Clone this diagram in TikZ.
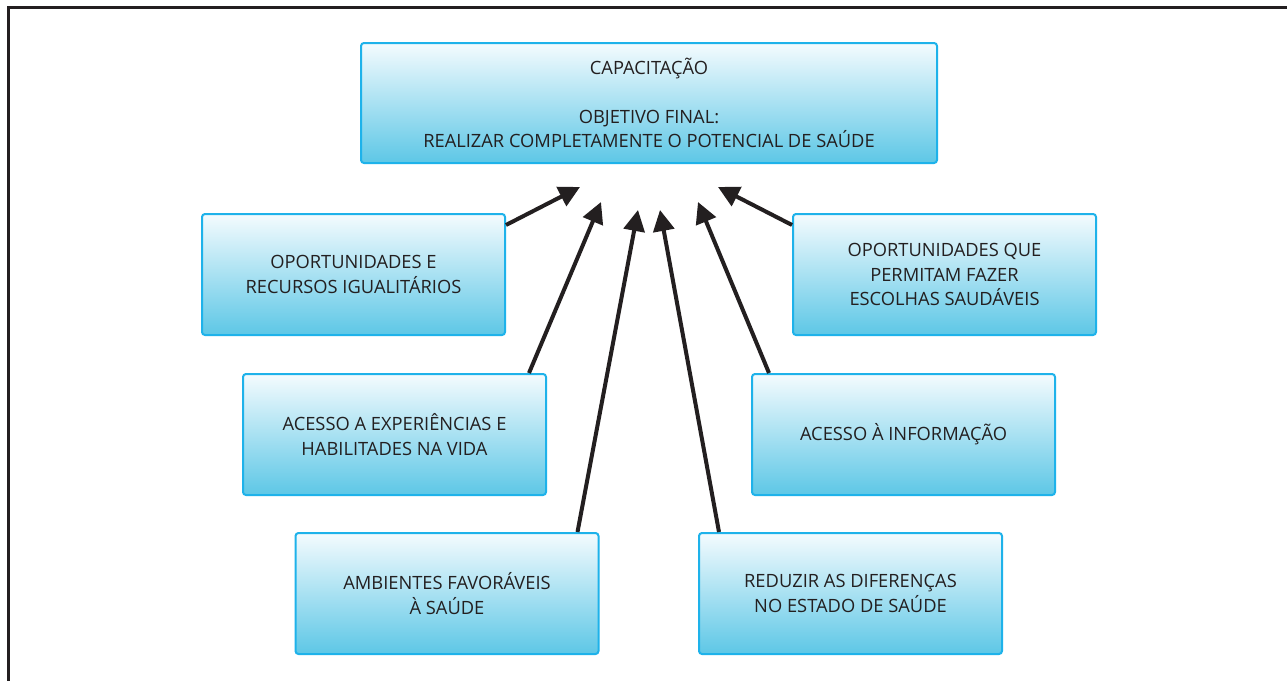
\documentclass[tikz,border=0pt]{standalone}
\usepackage{fontspec}
\setmainfont{Open Sans}
\usetikzlibrary{arrows.meta}
\definecolor{boxline}{HTML}{1EB2EA}
\definecolor{boxtop}{HTML}{F4FBFE}
\definecolor{boxbot}{HTML}{5DC7E6}
\definecolor{ink}{HTML}{231F20}
\tikzset{
  box/.style={rectangle, rounded corners=3pt, draw=boxline, line width=2pt,
    top color=boxtop, bottom color=boxbot, minimum width=303pt, minimum height=121pt,
    align=center, text=ink, font=\fontsize{18.3}{24.5}\selectfont, inner sep=0pt},
  arr/.style={draw=ink, line width=4pt, -{Triangle[length=21pt,width=21pt]}},
}
\begin{document}
\begin{tikzpicture}[x=1pt,y=-1pt]
\useasboundingbox (0,0) rectangle (1287,680);
\fill[white] (0,0) rectangle (1287,680);
\draw[ink, line width=3pt] (8,682) -- (8,7.5) -- (1290,7.5);
\node[box, minimum width=576pt, minimum height=120pt] (top) at (649,103)
  {CAPACITAÇÃO\\[24pt]OBJETIVO FINAL:\\REALIZAR COMPLETAMENTE O POTENCIAL DE SAÚDE};
\node[box] (b1) at (353.5,274.5) {OPORTUNIDADES E\\RECURSOS IGUALITÁRIOS};
\node[box] (b2) at (394.5,434.5) {ACESSO A EXPERIÊNCIAS E\\HABILITADES NA VIDA};
\node[box] (b3) at (447,593.5) {AMBIENTES FAVORÁVEIS\\À SAÚDE};
\node[box] (b4) at (850.5,593.5) {REDUZIR AS DIFERENÇAS\\NO ESTADO DE SAÚDE};
\node[box] (b5) at (903.5,434.5) {ACESSO À INFORMAÇÃO};
\node[box] (b6) at (944.5,274.5) {OPORTUNIDADES QUE\\PERMITAM FAZER\\ESCOLHAS SAUDÁVEIS};
\coordinate (t1) at (580,187);
\coordinate (t2) at (601,202);
\coordinate (t3) at (638,210);
\coordinate (t4) at (660,210);
\coordinate (t5) at (698,202);
\coordinate (t6) at (718,187);
\draw[arr] ([yshift=-12pt]b1.north east) -- (t1);
\draw[arr] ([xshift=-18pt]b2.north east) -- (t2);
\draw[arr] ([xshift=-22pt]b3.north east) -- (t3);
\draw[arr] ([xshift=21pt]b4.north west) -- (t4);
\draw[arr] ([xshift=18pt]b5.north west) -- (t5);
\draw[arr] ([yshift=-12pt]b6.north west) -- (t6);
\end{tikzpicture}
\end{document}
